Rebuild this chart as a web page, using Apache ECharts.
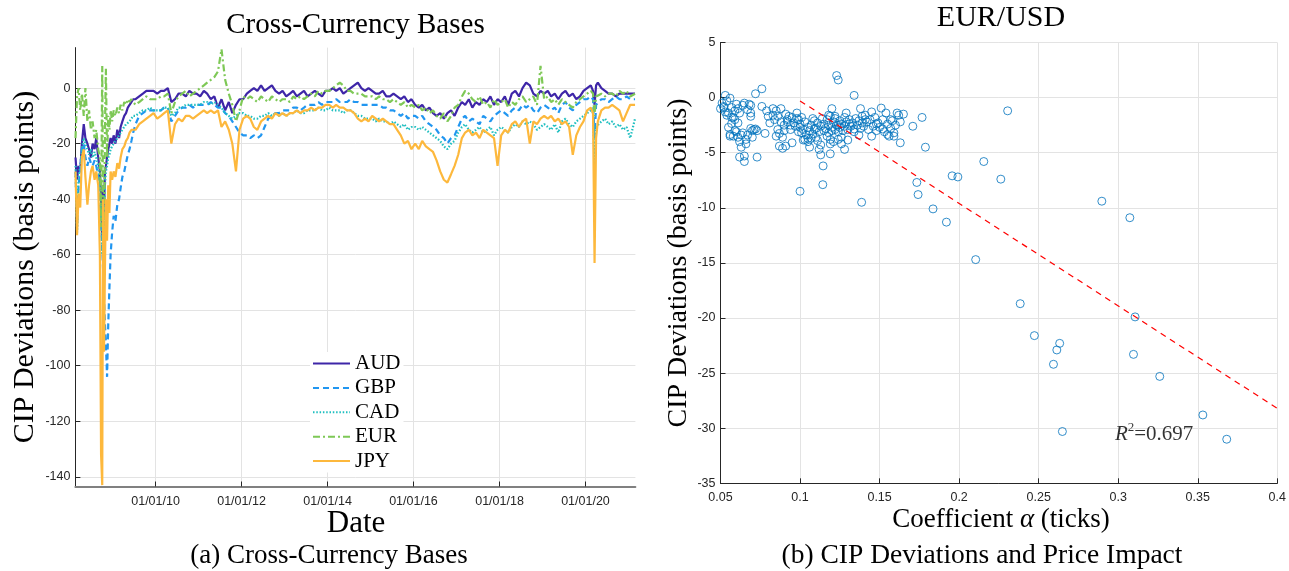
<!DOCTYPE html>
<html><head><meta charset="utf-8">
<script src="https://cdn.jsdelivr.net/npm/echarts@6/dist/echarts.min.js"></script>
<style>html,body{margin:0;padding:0;background:#fff}#c{width:1289px;height:571px}</style>
</head><body><div id="c"></div>
<script>
// ---------- DATA (left panel: cross-currency bases, basis points) ----------
const dates = [
'2008-02-21','2008-03-05','2008-03-18','2008-04-01','2008-04-15','2008-05-01','2008-05-15','2008-06-01','2008-06-15','2008-07-01',
'2008-07-15','2008-08-01','2008-08-15','2008-09-01','2008-09-15','2008-09-25','2008-10-05','2008-10-12','2008-10-20','2008-10-28',
'2008-11-05','2008-11-15','2008-11-25','2008-12-05','2008-12-15','2008-12-28','2009-01-10','2009-01-25','2009-02-10','2009-02-25',
'2009-03-10','2009-03-25','2009-04-10','2009-04-25','2009-05-10','2009-05-25','2009-06-10','2009-06-25',
'2009-07-15','2009-08-15','2009-09-15','2009-10-15','2009-11-15','2009-12-15',
'2010-01-15','2010-02-15','2010-03-15','2010-04-15','2010-05-15','2010-06-15','2010-07-15','2010-08-15','2010-09-15','2010-10-15','2010-11-15','2010-12-15',
'2011-01-15','2011-02-15','2011-03-15','2011-04-15','2011-05-15','2011-06-15','2011-07-15','2011-08-15','2011-09-15','2011-10-15','2011-11-15','2011-12-15',
'2012-01-15','2012-02-15','2012-03-15','2012-04-15','2012-05-15','2012-06-15','2012-07-15','2012-08-15','2012-09-15','2012-10-15','2012-11-15','2012-12-15',
'2013-01-15','2013-02-15','2013-03-15','2013-04-15','2013-05-15','2013-06-15','2013-07-15','2013-08-15','2013-09-15','2013-10-15','2013-11-15','2013-12-15',
'2014-01-15','2014-02-15','2014-03-15','2014-04-15','2014-05-15','2014-06-15','2014-07-15','2014-08-15','2014-09-15','2014-10-15','2014-11-15','2014-12-15',
'2015-01-15','2015-02-15','2015-03-15','2015-04-15','2015-05-15','2015-06-15','2015-07-15','2015-08-15','2015-09-15','2015-10-15','2015-11-15','2015-12-15',
'2016-01-15','2016-02-15','2016-03-15','2016-04-15','2016-05-15','2016-06-15','2016-07-15','2016-08-15','2016-09-15','2016-10-15','2016-11-15','2016-12-15',
'2017-01-15','2017-02-15','2017-03-15','2017-04-15','2017-05-15','2017-06-15','2017-07-15','2017-08-15','2017-09-15','2017-10-15','2017-11-15','2017-12-15',
'2018-01-15','2018-02-15','2018-03-15','2018-04-15','2018-05-15','2018-06-15','2018-07-15','2018-08-15','2018-09-15','2018-10-15','2018-11-15','2018-12-15',
'2019-01-15','2019-02-15','2019-03-15','2019-04-15','2019-05-15','2019-06-15','2019-07-15','2019-08-15','2019-09-15','2019-10-15','2019-11-15','2019-12-15',
'2020-01-15','2020-02-15','2020-03-05','2020-03-18','2020-03-31','2020-04-15','2020-05-15','2020-06-15','2020-07-15','2020-08-15','2020-09-15','2020-10-15','2020-11-15','2020-12-15',
'2021-01-15','2021-02-25'
];
const AUD = [
-25,-33,-28,-30,-20,-13,-18,-20,-22,-25,-20,-22,-18,-25,-30,-40,-55,-35,-45,-30,-28,-25,-22,-20,-18,-20,-17,-20,-15,-18,-14,-12,-10,-9,-7,-6,-5,-4,
-4,-3,-2,-1,-1,-1,
-2,-1,-1,0,-5,-4,-2,-2,-3,-1,-2,-2,
-3,-1,-2,-4,-3,-7,-4,-8,-5,-9,-6,-4,
-4,-2,-1,0,-1,1,-1,0,1,-1,-2,-1,
-3,-2,-1,-3,-2,-1,-3,-2,-1,-2,-3,-1,
-1,0,-1,0,-2,-1,0,1,2,0,-1,0,
-1,-2,-2,-1,-3,-3,-2,-3,-4,-3,-5,-4,
-6,-7,-6,-8,-7,-9,-10,-9,-11,-9,-8,-10,
-7,-5,-6,-4,-7,-5,-6,-4,-5,-3,-6,-4,
-5,-3,-6,-2,-1,-3,0,2,1,-2,-3,-1,
-2,-1,-3,-2,-4,-2,-1,-3,-2,-4,-3,-1,
0,1,-1,-6,1,2,0,-1,-2,-2,-3,-2,-2,-2,
-2,-2
];
const GBP = [
-30,-50,-35,-30,-22,-20,-25,-28,-25,-27,-28,-26,-28,-32,-40,-50,-58,-65,-75,-85,-92,-104,-85,-72,-60,-52,-46,-48,-42,-40,-36,-32,-30,-27,-24,-22,-19,-16,
-13,-10,-9,-8,-8,-8,
-8,-8,-7,-7,-12,-10,-8,-7,-7,-6,-7,-6,
-6,-6,-6,-5,-6,-7,-7,-9,-10,-12,-14,-16,
-17,-17,-18,-17,-18,-17,-14,-11,-10,-9,-9,-8,
-8,-8,-7,-7,-8,-7,-6,-6,-6,-5,-6,-5,
-5,-5,-4,-5,-5,-5,-4,-5,-5,-6,-6,-6,
-6,-6,-6,-7,-7,-8,-8,-9,-10,-9,-11,-10,
-10,-11,-10,-12,-13,-14,-15,-17,-18,-20,-18,-17,
-14,-11,-10,-12,-11,-12,-13,-10,-11,-12,-10,-9,
-8,-9,-10,-8,-7,-8,-6,-7,-6,-8,-9,-7,
-6,-7,-8,-7,-9,-6,-5,-7,-8,-6,-5,-4,
-4,-3,-4,-18,-6,-6,-4,-4,-5,-4,-3,-4,-4,-3,
-4,-4
];
const CAD = [
-28,-52,-32,-28,-22,-18,-20,-22,-24,-22,-25,-23,-25,-28,-35,-45,-60,-40,-50,-35,-30,-28,-25,-24,-22,-21,-20,-19,-18,-17,-17,-15,-14,-13,-13,-12,-11,-10,
-10,-9,-8,-8,-7,-8,
-8,-8,-7,-7,-10,-9,-7,-7,-6,-6,-6,-6,
-6,-5,-5,-6,-5,-6,-7,-9,-10,-11,-10,-9,
-9,-10,-10,-11,-11,-10,-10,-9,-10,-9,-10,-9,
-10,-9,-9,-8,-9,-9,-8,-8,-8,-7,-8,-8,
-7,-8,-8,-8,-9,-8,-8,-9,-10,-10,-11,-11,
-11,-12,-11,-12,-12,-13,-12,-13,-14,-13,-15,-14,
-14,-15,-14,-15,-16,-17,-18,-19,-21,-22,-20,-19,
-16,-14,-13,-15,-16,-15,-14,-16,-15,-14,-17,-15,
-14,-15,-16,-14,-13,-14,-12,-13,-12,-13,-15,-14,
-13,-14,-15,-13,-16,-12,-11,-13,-14,-12,-11,-10,
-9,-8,-9,-28,-14,-14,-12,-11,-13,-12,-14,-13,-15,-14,
-18,-11
];
const EUR = [
-18,-3,0,-8,-2,-10,0,-12,-8,-15,-12,-18,-15,-22,-25,-50,8,-45,-60,-15,7,-25,-10,-15,-8,-12,-8,-10,-7,-9,-6,-8,-5,-6,-4,-5,-4,-5,
-6,-5,-4,-3,-4,-4,
-4,-3,-3,-2,-9,-5,-3,-2,-1,-3,-2,-1,
0,1,2,3,4,6,14,3,-2,-6,-12,-8,
-3,-4,-3,-4,-5,-3,-4,-5,-3,-4,-5,-4,
-4,-5,-3,-4,-3,-4,-3,-2,-3,-1,-2,-1,
-1,0,1,2,1,-1,-1,-2,-2,-2,-3,-3,
-3,-4,-3,-4,-4,-5,-4,-5,-6,-5,-7,-6,
-7,-6,-8,-7,-9,-8,-10,-11,-9,-12,-10,-7,
-6,-3,-1,-2,-4,-5,-3,-6,-5,-7,-4,-6,
-5,-4,-7,-5,-6,-4,-3,-5,-4,-3,-6,8,
-4,-3,-5,-4,-6,-4,-5,-6,-7,-5,-4,-3,
-2,-1,-2,-10,-3,-3,-2,-3,-2,-2,-3,-1,-2,-1,
-3,-2
];
const JPY = [
-30,-53,-38,-43,-25,-22,-32,-42,-35,-30,-28,-33,-30,-35,-60,-132,-143,-40,-95,-65,-40,-55,-35,-45,-30,-33,-30,-32,-27,-29,-25,-22,-21,-19,-18,-16,-15,-15,
-15,-13,-12,-11,-10,-9,
-11,-10,-9,-8,-20,-13,-11,-12,-10,-10,-11,-10,
-9,-8,-9,-8,-9,-8,-14,-12,-15,-20,-30,-15,
-11,-10,-11,-14,-15,-12,-11,-10,-11,-9,-10,-9,
-10,-9,-9,-8,-9,-8,-8,-7,-8,-7,-7,-6,
-6,-7,-6,-7,-7,-8,-8,-9,-11,-12,-11,-12,
-10,-11,-12,-11,-12,-13,-13,-15,-17,-20,-19,-22,
-20,-22,-19,-21,-22,-23,-26,-30,-33,-34,-31,-28,
-24,-18,-16,-15,-17,-16,-18,-15,-16,-17,-18,-28,
-17,-15,-16,-13,-12,-14,-12,-11,-20,-12,-13,-11,
-10,-11,-10,-12,-11,-13,-12,-14,-24,-17,-14,-12,
-8,-7,-9,-63,-18,-12,-8,-7,-7,-6,-7,-8,-12,-9,
-6,-6
];
const currencyNames = ['AUD','GBP','CAD','EUR','JPY'];
const leftYTicks = [-140,-120,-100,-80,-60,-40,-20,0];
const leftXTicks = ['2010-01-01','2012-01-01','2014-01-01','2016-01-01','2018-01-01','2020-01-01'];

// ---------- DATA (right panel: EUR/USD, coefficient alpha vs CIP deviation) ----------
const eurusdPoints = [
[0.050,-1.0],[0.051,-0.5],[0.052,-0.8],[0.053,0.2],[0.054,-0.3],[0.055,-1.4],[0.055,-2.7],[0.056,-0.05],[0.056,-3.35],[0.057,-1.8],
[0.057,-0.9],[0.057,-2.35],[0.058,-1.8],[0.058,-3.5],[0.059,-1.2],[0.059,-2.0],[0.060,-0.6],[0.060,-3.1],[0.061,-1.0],[0.061,-3.6],
[0.062,-1.4],[0.062,-4.0],[0.062,-5.4],[0.063,-4.5],[0.063,-3.4],[0.064,-3.2],[0.065,-0.5],[0.065,-5.3],[0.065,-5.8],[0.066,-4.2],
[0.066,-3.8],[0.067,-3.4],[0.067,-1.1],[0.068,-0.6],[0.069,-2.8],[0.069,-0.7],[0.069,-1.4],[0.069,-1.7],[0.070,-3.6],[0.070,-3.0],
[0.071,-2.9],[0.072,0.35],[0.072,-2.85],[0.073,-5.4],[0.073,-3.0],[0.076,0.8],[0.076,-0.8],[0.078,-3.25],[0.079,-1.2],[0.080,-1.7],
[0.052,-0.9],[0.054,-1.6],[0.053,-1.3],[0.056,-3.5],[0.059,-3.0],[0.061,-2.3],[0.064,-0.7],
[0.081,-2.3],[0.083,-1.0],[0.083,-1.6],[0.084,-2.0],[0.085,-1.2],[0.085,-3.5],[0.086,-1.7],[0.086,-2.9],[0.087,-3.25],[0.087,-4.4],
[0.088,-1.0],[0.088,-2.2],[0.089,-4.6],[0.089,-3.6],[0.090,-3.0],[0.090,-2.5],[0.091,-4.4],[0.091,-1.5],[0.092,-2.2],[0.092,-2.0],
[0.093,-1.7],[0.094,-2.5],[0.094,-2.9],[0.095,-4.1],[0.095,-1.8],[0.096,-2.3],[0.097,-2.6],[0.098,-1.4],[0.098,-1.9],[0.099,-2.0],
[0.099,-3.1],[0.100,-2.7],[0.100,-2.4],[0.101,-3.2],[0.101,-1.8],[0.102,-3.85],[0.102,-2.9],[0.103,-2.2],[0.103,-3.8],[0.104,-3.4],
[0.105,-3.7],[0.105,-2.7],[0.105,-4.0],[0.106,-4.5],[0.106,-3.0],[0.107,-2.5],[0.107,-3.7],[0.108,-1.9],[0.108,-3.3],[0.109,-2.85],
[0.109,-2.1],[0.110,-2.8],[0.110,-3.6],[0.111,-2.3],[0.111,-3.9],[0.112,-4.7],[0.112,-3.1],[0.113,-5.2],[0.113,-2.6],[0.113,-4.3],
[0.114,-1.9],[0.115,-3.0],[0.115,-2.4],[0.116,-2.8],[0.117,-2.0],[0.117,-3.5],[0.118,-1.6],[0.118,-3.2],[0.118,-2.5],[0.119,-4.2],
[0.119,-1.7],[0.119,-3.8],[0.119,-5.1],[0.120,-1.0],[0.120,-2.7],[0.120,-3.0],[0.121,-2.2],[0.121,-4.0],[0.122,-1.7],[0.122,-2.9],
[0.122,-1.9],[0.123,-2.5],[0.124,-2.5],[0.124,-3.1],[0.124,-3.8],[0.125,-2.1],[0.125,-2.7],[0.126,-3.6],[0.126,-2.4],[0.126,-4.2],
[0.127,-3.0],[0.128,-4.7],[0.128,-1.8],[0.128,-2.6],[0.129,-1.4],[0.129,-2.2],[0.130,-3.85],[0.130,-2.9],[0.131,-2.4],[0.131,-2.0],
[0.132,-2.6],[0.133,-2.3],[0.134,-2.85],[0.134,-3.1],[0.135,-1.9],[0.136,-2.5],[0.137,-3.4],[0.137,-2.1],[0.138,-1.0],[0.138,-2.8],
[0.139,-1.7],[0.139,-2.3],[0.140,-2.6],[0.141,-2.0],[0.141,-1.6],[0.142,-2.2],[0.143,-2.9],[0.144,-2.0],[0.145,-1.3],[0.145,-3.5],
[0.146,-2.6],[0.147,-1.8],[0.148,-2.4],[0.148,-3.0],[0.149,-2.3],[0.150,-2.7],[0.151,-0.95],[0.152,-2.85],[0.152,-2.0],[0.153,-3.1],
[0.154,-1.4],[0.155,-2.4],[0.155,-3.35],[0.156,-3.5],[0.157,-2.0],[0.157,-2.8],[0.158,-2.1],[0.159,-3.2],[0.159,-3.5],[0.160,-2.5],
[0.161,-1.4],[0.162,-1.6],[0.163,-2.2],[0.163,-4.1],[0.165,-1.5],
[0.123,2.0],[0.124,1.6],[0.134,0.2],[0.2305,-1.2],[0.1767,-1.8],[0.1709,-2.6],[0.1788,-4.5],[0.2155,-5.8],[0.1956,-7.1],[0.1992,-7.2],
[0.2262,-7.4],[0.1734,-7.7],[0.1742,-8.8],[0.100,-8.5],[0.1143,-7.9],[0.1145,-6.2],[0.1387,-9.5],[0.1836,-10.1],[0.192,-11.3],[0.2897,-9.4],
[0.3073,-10.9],[0.2104,-14.7],[0.2384,-18.7],[0.3106,-19.9],[0.2473,-21.6],[0.2632,-22.3],[0.2614,-22.9],[0.3096,-23.3],[0.2593,-24.2],[0.3261,-25.3],
[0.3532,-28.8],[0.2649,-30.3],[0.3682,-31.0]
];
const fitLine = [[0.1,-0.3],[0.4,-28.2]];
const r2Note = [[0.2976,-30.4]];

// ---------- CHART ----------
const toTs = s => { const p = s.split('-').map(Number); return Date.UTC(p[0], p[1]-1, p[2]); };
const pad2 = n => (n < 10 ? '0' : '') + n;
const fmtDate = v => { const d = new Date(v); return pad2(d.getUTCDate()) + '/' + pad2(d.getUTCMonth()+1) + '/' + pad2(d.getUTCFullYear() % 100); };

const serif = 'Liberation Serif';
const sans = 'Liberation Sans';
const tickColor = '#262626';
const gridColor = '#e3e3e3';

const colors = { AUD:'#3e26a8', GBP:'#2196f0', CAD:'#1fbfc0', EUR:'#7ec856', JPY:'#fdb83c' };
const dashes = { AUD:'solid', GBP:[6,4], CAD:[1.5,1.8], EUR:[7,3,2,3], JPY:'solid' };
const valuesOf = { AUD, GBP, CAD, EUR, JPY };

const lineSeries = currencyNames.map(n => ({
  name: n, type: 'line', xAxisIndex: 0, yAxisIndex: 0, symbol: 'none', showSymbol: false, smooth: false,
  data: dates.map((d, i) => [toTs(d), valuesOf[n][i]]),
  lineStyle: { color: colors[n], width: 2.2, type: dashes[n] },
  itemStyle: { color: colors[n] }
}));

const chart = echarts.init(document.getElementById('c'), null, { renderer: 'canvas' });
const txt = (x, y, text, size, extra) => Object.assign({
  type: 'text', x: x, y: y,
  style: { text: text, fontFamily: serif, fontSize: size, fill: '#000', textAlign: 'center', textVerticalAlign: 'middle' }
}, extra || {});

chart.setOption({
  animation: false,
  backgroundColor: '#fff',
  grid: [
    { left: 75.4, top: 47.6, width: 560, height: 438.9 },
    { left: 720.5, top: 42.5, width: 562.7, height: 440.8 }
  ],
  legend: {
    data: currencyNames,
    orient: 'vertical', left: 310, top: 352,
    itemWidth: 37, itemHeight: 14, itemGap: 3.4, padding: [1, 3, 1, 2],
    backgroundColor: '#fff',
    itemStyle: { opacity: 0, borderWidth: 0 },
    lineStyle: { width: 2 },
    textStyle: { fontFamily: serif, fontSize: 21, color: '#000' }
  },
  xAxis: [
    { type: 'value', gridIndex: 0, min: toTs('2008-02-20'), max: toTs('2021-02-28'),
      axisLine: { show: true, onZero: false, lineStyle: { color: '#808080', width: 2 } },
      axisTick: { show: true, inside: true, length: 5, customValues: leftXTicks.map(toTs), lineStyle: { color: tickColor } },
      axisLabel: { customValues: leftXTicks.map(toTs), formatter: fmtDate, fontFamily: sans, fontSize: 12.5, color: tickColor, margin: 9 },
      splitLine: { show: true, lineStyle: { color: gridColor, width: 1 } } },
    { type: 'value', gridIndex: 1, min: 0.05, max: 0.4, interval: 0.05,
      axisLine: { show: true, onZero: false, lineStyle: { color: tickColor, width: 1 } },
      axisTick: { show: true, inside: true, length: 5, lineStyle: { color: tickColor } },
      axisLabel: { fontFamily: sans, fontSize: 12.5, color: tickColor, margin: 8 },
      splitLine: { show: true, lineStyle: { color: gridColor, width: 1 } } }
  ],
  yAxis: [
    { type: 'value', gridIndex: 0, min: -143.5, max: 14.6,
      axisLine: { show: true, onZero: false, lineStyle: { color: tickColor, width: 1 } },
      axisTick: { show: true, inside: true, length: 5, customValues: leftYTicks, lineStyle: { color: tickColor } },
      axisLabel: { customValues: leftYTicks, fontFamily: sans, fontSize: 12.5, color: tickColor, margin: 5 },
      splitLine: { show: true, lineStyle: { color: gridColor, width: 1 } } },
    { type: 'value', gridIndex: 1, min: -35, max: 5, interval: 5,
      axisLine: { show: true, onZero: false, lineStyle: { color: tickColor, width: 1 } },
      axisTick: { show: true, inside: true, length: 5, lineStyle: { color: tickColor } },
      axisLabel: { fontFamily: sans, fontSize: 12.5, color: tickColor, margin: 5 },
      splitLine: { show: true, lineStyle: { color: gridColor, width: 1 } } }
  ],
  series: lineSeries.concat([
    { name: 'EUR/USD', type: 'scatter', xAxisIndex: 1, yAxisIndex: 1, data: eurusdPoints,
      symbol: 'circle', symbolSize: 8,
      itemStyle: { color: 'rgba(0,0,0,0)', borderColor: '#0072BD', borderWidth: 1 } },
    { name: 'fit', type: 'line', xAxisIndex: 1, yAxisIndex: 1, data: fitLine, symbol: 'none',
      lineStyle: { color: '#ff0000', width: 1.2, type: [6, 5] } },
    { name: 'r2', type: 'scatter', xAxisIndex: 1, yAxisIndex: 1, data: r2Note, symbolSize: 1,
      itemStyle: { color: 'rgba(0,0,0,0)' },
      label: { show: true, position: 'right', distance: 0,
        formatter: '{i|R}{s|2}{n|=0.697}',
        rich: {
          i: { fontFamily: serif, fontStyle: 'italic', fontSize: 21, color: '#000', lineHeight: 24, verticalAlign: 'bottom' },
          s: { fontFamily: serif, fontSize: 13, color: '#000', lineHeight: 24, verticalAlign: 'top' },
          n: { fontFamily: serif, fontSize: 21, color: '#000', lineHeight: 24, verticalAlign: 'bottom' }
        } } }
  ]),
  graphic: [
    txt(355.4, 25, 'Cross-Currency Bases', 29),
    txt(1001, 18, 'EUR/USD', 30),
    txt(25, 267, 'CIP Deviations (basis points)', 30, { rotation: Math.PI / 2 }),
    txt(679, 263, 'CIP Deviations (basis points)', 28, { rotation: Math.PI / 2 }),
    txt(356, 524, 'Date', 31),
    { type: 'text', x: 1001, y: 520, style: {
        text: '{n|Coefficient }{i|α}{n| (ticks)}', textAlign: 'center', textVerticalAlign: 'middle',
        rich: { n: { fontFamily: serif, fontSize: 27, fill: '#000' }, i: { fontFamily: serif, fontStyle: 'italic', fontSize: 27, fill: '#000' } } } },
    txt(329, 556, '(a) Cross-Currency Bases', 27),
    txt(982, 556, '(b) CIP Deviations and Price Impact', 27.5)
  ]
});
</script></body></html>
